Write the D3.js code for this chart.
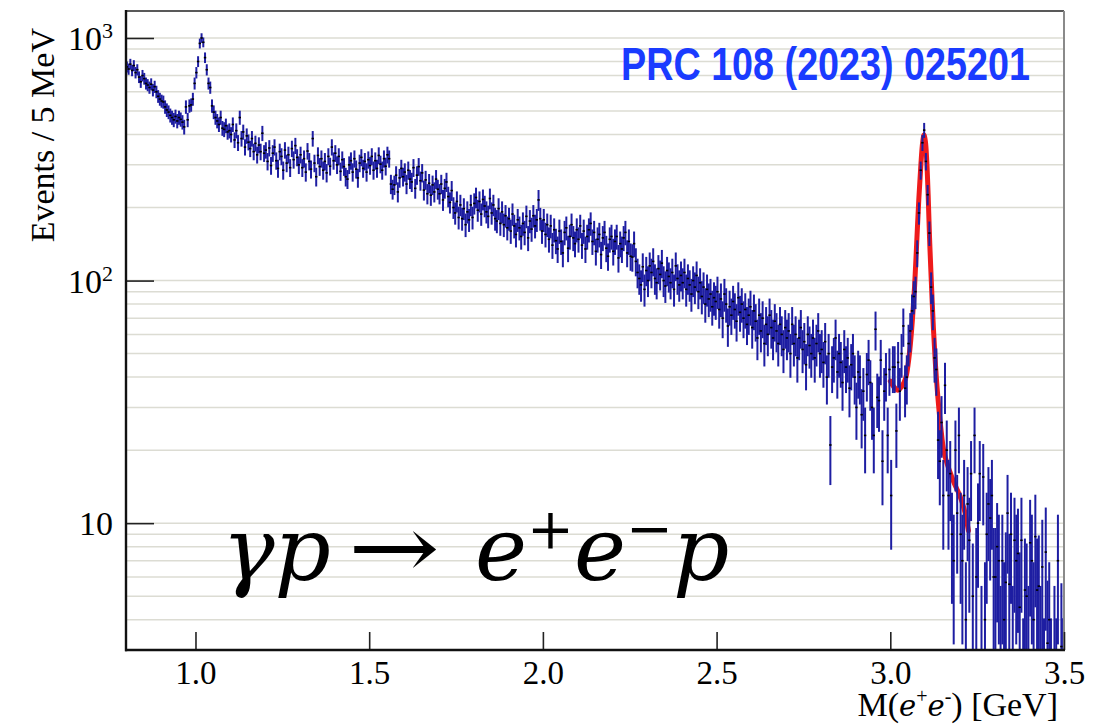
<!DOCTYPE html>
<html>
<head>
<meta charset="utf-8">
<script src="https://cdn.jsdelivr.net/npm/d3@7"></script>
<style>
  html, body { margin: 0; padding: 0; background: #fff; }
  svg { display: block; }
  .serif { font-family: "Liberation Serif", "Times New Roman", Times, serif; }
  .ital { font-family: "DejaVu Serif", serif; font-style: italic; }
  .reaction { font-family: "DejaVu Serif", serif; font-style: italic; font-size: 88px; }
  .tag { font-family: "Liberation Sans Narrow", "Liberation Sans", Arial, sans-serif; font-weight: bold; }
</style>
</head>
<body>
<svg id="chart" width="1110" height="725"></svg>
<script>
const massMin = 0.8;
const massMax = 3.5;
const binWidth = 0.005;

// events per 5 MeV bin, one line = 0.1 GeV (20 bins)
const counts = [
  760, 745, 780, 735, 770, 720, 740, 690, 660, 700, 680, 650, 640, 625, 645, 610, 630, 600, 575, 560,
  550, 545, 520, 505, 495, 480, 470, 460, 475, 455, 470, 462, 450, 430, 520, 460, 525, 530, 560, 650,
  720, 800, 950, 1000, 960, 830, 740, 650, 625, 525, 495, 470, 455, 440, 470, 425, 420, 435, 410, 415,
  400, 440, 380, 415, 370, 470, 385, 410, 355, 395, 372, 350, 385, 340, 368, 330, 362, 340, 405, 335,
  345, 310, 352, 298, 335, 355, 312, 290, 340, 325, 285, 345, 305, 330, 292, 350, 315, 360, 322, 300,
  330, 292, 318, 280, 342, 310, 288, 385, 305, 268, 328, 295, 318, 285, 310, 278, 325, 296, 355, 312,
  335, 300, 325, 282, 315, 295, 268, 262, 300, 312, 280, 318, 288, 265, 305, 322, 290, 310, 280, 315,
  298, 325, 285, 312, 290, 328, 302, 285, 318, 296, 330, 318, 250, 238, 248, 272, 232, 265, 290, 268,
  280, 250, 285, 262, 255, 292, 240, 272, 295, 258, 278, 236, 260, 228, 252, 225, 248, 232, 262, 238,
  228, 250, 215, 240, 255, 222, 210, 235, 200, 190, 212, 182, 205, 180, 198, 170, 192, 178, 205, 182,
  208, 220, 195, 212, 188, 216, 203, 192, 184, 218, 190, 205, 180, 176, 198, 172, 192, 170, 185, 165,
  180, 160, 188, 168, 155, 178, 165, 152, 172, 158, 184, 150, 176, 163, 185, 168, 178, 215, 180, 160,
  178, 155, 170, 148, 168, 140, 162, 146, 135, 160, 145, 130, 158, 165, 136, 152, 170, 150, 142, 162,
  148, 168, 140, 160, 135, 152, 162, 172, 145, 158, 132, 148, 155, 128, 150, 158, 136, 126, 148, 152,
  132, 145, 152, 124, 142, 135, 150, 158, 130, 145, 126, 125, 142, 120, 108, 102, 96, 114, 92, 110,
  100, 115, 108, 120, 102, 98, 112, 106, 118, 100, 95, 110, 104, 98, 108, 92, 115, 102, 96, 105,
  98, 108, 92, 102, 96, 88, 100, 94, 105, 90, 98, 86, 94, 80, 92, 84, 88, 78, 85, 82,
  90, 76, 84, 70, 88, 80, 65, 78, 72, 82, 76, 68, 85, 74, 80, 70, 76, 66, 72, 78,
  64, 75, 68, 58, 72, 62, 70, 55, 66, 60, 72, 64, 58, 68, 62, 55, 66, 60, 52, 64,
  58, 62, 50, 66, 55, 60, 48, 58, 64, 52, 56, 45, 60, 54, 50, 58, 48, 55, 62, 50,
  52, 46, 56, 40, 50, 21, 44, 48, 58, 42, 50, 46, 38, 52, 44, 48, 36, 45, 50, 40,
  30, 42, 40, 28, 35, 23, 41, 47, 38, 30, 23, 63, 33, 32, 47, 18, 35, 41, 23, 43,
  13, 44, 44, 24, 46, 35, 50, 65, 36, 40, 55, 62, 75, 86, 90, 130, 190, 285, 370, 417,
  310, 226, 157, 94, 75, 48, 43, 22, 18, 26, 13, 37, 20, 13, 16, 9, 7, 20, 11, 23,
  9, 7, 13, 4, 12, 8.5, 16, 5, 23, 6, 10, 16, 3, 15.5, 4, 9, 12, 10.5, 13, 6,
  6, 8, 7, 3, 7, 4, 5.7, 11, 5.6, 9, 3, 8.5, 7, 7.5, 4.5, 8.5, 2, 5.3, 5, 3,
  8.3, 7, 4, 8.8, 5.3, 5.5, 3, 6.6, 2, 7.6, 3.2, 4, 2, 1, 3, 2, 7, 1, 3.1, 2
];

// weighted (accidental-subtracted) events: errors are wider than plain sqrt(N)
const errScale = 1.45;

// J/psi fit: [mass GeV, events]
const fitCurve = [
  [3.000, 38.5], [3.010, 36.5], [3.022, 35.3], [3.035, 37], [3.045, 40],
  [3.052, 46], [3.058, 55], [3.064, 70], [3.070, 95], [3.076, 143],
  [3.082, 215], [3.088, 300], [3.093, 370], [3.097, 398], [3.101, 375],
  [3.105, 310], [3.109, 225], [3.113, 150], [3.118, 100], [3.124, 64],
  [3.130, 45], [3.137, 33], [3.145, 25], [3.155, 19.5], [3.170, 16.5],
  [3.185, 14.5], [3.200, 13], [3.212, 11.5], [3.225, 9.3]
];

const xMajorTicks = [1.0, 1.5, 2.0, 2.5, 3.0, 3.5];
const xMinorTicks = [0.9, 1.1, 1.2, 1.3, 1.4, 1.6, 1.7, 1.8, 1.9, 2.1, 2.2, 2.3, 2.4,
  2.6, 2.7, 2.8, 2.9, 3.1, 3.2, 3.3, 3.4];
const yMajorTicks = [10, 100, 1000];
const yMajorLabels = [["10", ""], ["10", "2"], ["10", "3"]];
const yMinorTicks = [4, 5, 6, 7, 8, 9, 20, 30, 40, 50, 60, 70, 80, 90,
  200, 300, 400, 500, 600, 700, 800, 900];

const svg = d3.select('#chart');
const frame = { left: 126, right: 1064, top: 11, bottom: 650 };

const x = d3.scaleLinear().domain([massMin, massMax]).range([frame.left, frame.right]);
const y = d3.scaleLog().domain([3, 1292]).range([frame.bottom, frame.top]);
const [yLow, yHigh] = y.domain();

svg.append('defs').append('clipPath').attr('id', 'plotClip')
  .append('rect')
  .attr('x', frame.left).attr('y', frame.top)
  .attr('width', frame.right - frame.left).attr('height', frame.bottom - frame.top);

// horizontal grid at every y tick
svg.append('g')
  .selectAll('line')
  .data(yMajorTicks.concat(yMinorTicks))
  .join('line')
  .attr('x1', frame.left).attr('x2', frame.right)
  .attr('y1', d => y(d)).attr('y2', d => y(d))
  .attr('stroke', '#dcdcd3')
  .attr('stroke-width', 1.5);

const plot = svg.append('g').attr('clip-path', 'url(#plotClip)');

// fit
plot.append('path')
  .datum(fitCurve)
  .attr('d', d3.line().x(d => x(d[0])).y(d => y(d[1])).curve(d3.curveCatmullRom))
  .attr('fill', 'none')
  .attr('stroke', '#ee1b1b')
  .attr('stroke-width', 5)
  .attr('stroke-linecap', 'round');

const bins = counts.map((n, i) => {
  const e = errScale * Math.sqrt(n);
  return { m: massMin + binWidth * (i + 0.5), n, lo: Math.max(n - e, yLow), hi: Math.min(n + e, yHigh) };
});

// error bars
plot.append('g')
  .selectAll('line')
  .data(bins.filter(d => d.hi > yLow))
  .join('line')
  .attr('x1', d => x(d.m)).attr('x2', d => x(d.m))
  .attr('y1', d => y(d.hi)).attr('y2', d => y(d.lo))
  .attr('stroke', '#1e1ea2')
  .attr('stroke-width', 2);

// markers
plot.append('g')
  .selectAll('rect')
  .data(bins.filter(d => d.n >= yLow))
  .join('rect')
  .attr('x', d => x(d.m) - 1.2).attr('y', d => y(d.n) - 0.8)
  .attr('width', 2.4).attr('height', 1.6)
  .attr('fill', '#000');

// frame
svg.append('line').attr('x1', frame.left).attr('x2', frame.right).attr('y1', frame.top).attr('y2', frame.top)
  .attr('stroke', '#222').attr('stroke-width', 1.5);
svg.append('line').attr('x1', frame.right).attr('x2', frame.right).attr('y1', frame.top).attr('y2', frame.bottom)
  .attr('stroke', '#8a8a8a').attr('stroke-width', 2);

// x axis
const xAxisG = svg.append('g').attr('transform', `translate(0,${frame.bottom})`);
xAxisG.call(d3.axisBottom(x).tickValues(xMinorTicks).tickSize(-9).tickFormat(''));
xAxisG.call(d3.axisBottom(x).tickValues(xMajorTicks).tickSize(-18).tickPadding(11).tickFormat(d3.format('.1f')));
xAxisG.attr('font-family', null).attr('font-size', null);
xAxisG.selectAll('.tick line').attr('stroke', '#222').attr('stroke-width', 1.6);
xAxisG.selectAll('.domain').remove();
xAxisG.selectAll('text').attr('class', 'serif').attr('font-size', 33).attr('fill', '#000');

// y axis
const yAxisG = svg.append('g').attr('transform', `translate(${frame.left},0)`);
yAxisG.call(d3.axisLeft(y).tickValues(yMinorTicks).tickSize(-14).tickFormat(''));
yAxisG.call(d3.axisLeft(y).tickValues(yMajorTicks).tickSize(-28).tickFormat(''));
yAxisG.selectAll('.tick line').attr('stroke', '#222').attr('stroke-width', 1.6);
yAxisG.selectAll('.domain').remove();

const yLabels = svg.append('g')
  .selectAll('text')
  .data(yMajorTicks.map((v, i) => ({ v, base: yMajorLabels[i][0], sup: yMajorLabels[i][1] })))
  .join('text')
  .attr('class', 'serif')
  .attr('font-size', 34)
  .attr('text-anchor', 'end')
  .attr('x', 113)
  .attr('y', d => y(d.v) + 12);
yLabels.append('tspan').text(d => d.base);
yLabels.filter(d => d.sup).append('tspan')
  .attr('font-size', 22).attr('dy', -12).text(d => d.sup);

// axis lines on top
svg.append('line').attr('x1', frame.left).attr('x2', frame.left).attr('y1', frame.top - 1).attr('y2', frame.bottom + 1.2)
  .attr('stroke', '#111').attr('stroke-width', 2.4);
svg.append('line').attr('x1', frame.left - 1).attr('x2', frame.right + 1).attr('y1', frame.bottom).attr('y2', frame.bottom)
  .attr('stroke', '#111').attr('stroke-width', 2.4);

// axis titles
svg.append('text')
  .attr('class', 'serif').attr('font-size', 34)
  .attr('text-anchor', 'end')
  .attr('transform', 'translate(54,28) rotate(-90)')
  .text('Events / 5 MeV');

const xTitle = svg.append('text')
  .attr('class', 'serif').attr('font-size', 34)
  .attr('text-anchor', 'end')
  .attr('x', 1058).attr('y', 716);
xTitle.append('tspan').text('M(');
xTitle.append('tspan').attr('class', 'ital').attr('font-size', 29).text('e');
xTitle.append('tspan').attr('font-size', 20).attr('dy', -13).text('+');
xTitle.append('tspan').attr('class', 'ital').attr('font-size', 29).attr('dy', 13).text('e');
xTitle.append('tspan').attr('font-size', 20).attr('dy', -13).text('-');
xTitle.append('tspan').attr('dy', 13).text(') [GeV]');

// reference tag
svg.append('text')
  .attr('class', 'tag')
  .attr('x', 621).attr('y', 80)
  .attr('font-size', 46)
  .attr('fill', '#1a3bff')
  .attr('textLength', 409)
  .attr('lengthAdjust', 'spacingAndGlyphs')
  .text('PRC 108 (2023) 025201');

// reaction label
const reactionG = svg.append('g');
reactionG.append('text').attr('class', 'reaction')
  .attr('x', 222).attr('y', 580)
  .text('γp');
const arrow = reactionG.append('text').attr('class', 'reaction')
  .style('font-style', 'normal')
  .text('→');
const ab = arrow.node().getBBox();
const arrowScale = ab.width > 0 ? 92 / ab.width : 1;
arrow.attr('transform', `translate(${348 - ab.x * arrowScale},578) scale(${arrowScale},1)`);
const products = reactionG.append('text').attr('class', 'reaction')
  .attr('x', 475).attr('y', 580);
products.append('tspan').text('e');
products.append('tspan').attr('x', 527).attr('dy', -32).attr('font-size', 56).style('font-style', 'normal').text('+');
products.append('tspan').attr('x', 574).attr('dy', 32).text('e');
products.append('tspan').attr('x', 626).attr('dy', -32).attr('font-size', 56).style('font-style', 'normal').text('−');
products.append('tspan').attr('x', 673).attr('dy', 32).text('p');
</script>
</body>
</html>
